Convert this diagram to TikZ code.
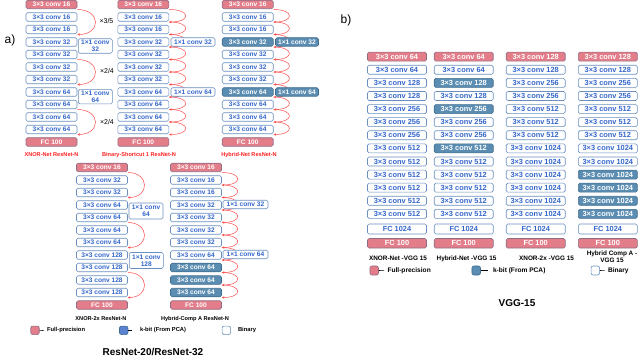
\documentclass[tikz,border=0pt]{standalone}
\usepackage{fontspec}
\setmainfont{Liberation Sans}
\usetikzlibrary{arrows.meta,calc}
\definecolor{fpfill}{HTML}{E27D89}
\definecolor{fpdraw}{HTML}{8E6E84}
\definecolor{kfill}{HTML}{5B8DB2}
\definecolor{kdraw}{HTML}{3F6E90}
\definecolor{bdraw}{HTML}{6B8FC0}
\definecolor{btext}{HTML}{3366CC}
\definecolor{arcred}{HTML}{FF4A4A}
\definecolor{legk}{HTML}{5A82D0}
\definecolor{labred}{HTML}{FF2020}
\begin{document}
\begin{tikzpicture}[x=1pt,y=-1pt,
 box/.style={rounded corners=1.5pt,line width=0.6pt,inner sep=0pt,minimum height=8.5pt,minimum width=51pt,font=\bfseries\fontsize{6.6}{7}\selectfont},
 fp/.style={box,fill=fpfill,draw=fpdraw,text=white},
 bin/.style={box,fill=white,draw=bdraw,text=btext},
 kb/.style={box,fill=kfill,draw=kdraw,text=white},
 vgg/.style={minimum width=59pt,minimum height=9pt,font=\bfseries\fontsize{7.4}{8}\selectfont},
 arcst/.style={draw=arcred,line width=0.5pt,-{Stealth[length=2.6pt,width=2.4pt]}},
 netlab/.style={font=\bfseries\fontsize{5.6}{6}\selectfont},
 leglab/.style={anchor=west,font=\bfseries\fontsize{5.8}{6}\selectfont},
 leglabb/.style={anchor=west,font=\bfseries\fontsize{6.6}{7}\selectfont},
 legsq/.style={rounded corners=2pt,line width=0.6pt,minimum width=8.5pt,minimum height=8.5pt,inner sep=0pt},
 mult/.style={anchor=west,font=\fontsize{7}{8}\selectfont},
 title/.style={font=\bfseries\fontsize{10}{12}\selectfont}
]
\useasboundingbox (0,0) rectangle (640,358);

% ---------- panel a, top row ----------
\foreach \s/\t [count=\k from 0] in {fp/3×3 conv 16,bin/3×3 conv 16,bin/3×3 conv 16,bin/3×3 conv 32,bin/3×3 conv 32,bin/3×3 conv 32,bin/3×3 conv 32,bin/3×3 conv 64,bin/3×3 conv 64,bin/3×3 conv 64,bin/3×3 conv 64,fp/FC 100}
  \node[\s] (A\k) at (51.5,{4.5+12.5*\k}) {\t};
\foreach \s/\t [count=\k from 0] in {fp/3×3 conv 16,bin/3×3 conv 16,bin/3×3 conv 16,bin/3×3 conv 32,bin/3×3 conv 32,bin/3×3 conv 32,bin/3×3 conv 32,bin/3×3 conv 64,bin/3×3 conv 64,bin/3×3 conv 64,bin/3×3 conv 64,fp/FC 100}
  \node[\s] (B\k) at (143.3,{4.5+12.5*\k}) {\t};
\foreach \s/\t [count=\k from 0] in {fp/3×3 conv 16,bin/3×3 conv 16,bin/3×3 conv 16,kb/3×3 conv 32,bin/3×3 conv 32,bin/3×3 conv 32,bin/3×3 conv 32,kb/3×3 conv 64,bin/3×3 conv 64,bin/3×3 conv 64,bin/3×3 conv 64,fp/FC 100}
  \node[\s] (C\k) at (247.7,{4.5+12.5*\k}) {\t};

% ---------- panel a, bottom row ----------
\foreach \s/\t [count=\k from 0] in {fp/3×3 conv 16,bin/3×3 conv 32,bin/3×3 conv 32,bin/3×3 conv 64,bin/3×3 conv 64,bin/3×3 conv 64,bin/3×3 conv 64,bin/3×3 conv 128,bin/3×3 conv 128,bin/3×3 conv 128,bin/3×3 conv 128,fp/FC 100}
  \node[\s] (D\k) at (102,{167.5+12.5*\k}) {\t};
\foreach \s/\t [count=\k from 0] in {fp/3×3 conv 16,bin/3×3 conv 16,bin/3×3 conv 16,bin/3×3 conv 32,bin/3×3 conv 32,bin/3×3 conv 32,bin/3×3 conv 32,bin/3×3 conv 64,kb/3×3 conv 64,kb/3×3 conv 64,kb/3×3 conv 64,fp/FC 100}
  \node[\s] (E\k) at (196,{167.5+12.5*\k}) {\t};

% residual arcs
\draw[arcst] ($(A0.east)+(0,5)$) .. controls +(24,0) and +(24,0) .. ($(A2.east)+(0,5)$);
\draw[arcst] ($(A4.east)+(0,5)$) .. controls +(24,0) and +(24,0) .. ($(A6.east)+(0,5)$);
\draw[arcst] ($(A8.east)+(0,5)$) .. controls +(24,0) and +(24,0) .. ($(A10.east)+(0,5)$);
\draw[arcst] ($(D0.east)+(0,5)$) .. controls +(22,0) and +(22,0) .. ($(D2.east)+(0,5)$);
\draw[arcst] ($(D4.east)+(0,5)$) .. controls +(22,0) and +(22,0) .. ($(D6.east)+(0,5)$);
\draw[arcst] ($(D8.east)+(0,5)$) .. controls +(22,0) and +(22,0) .. ($(D10.east)+(0,5)$);
\foreach \i in {0,...,9}{
  \pgfmathtruncatemacro\j{\i+1}
  \draw[arcst] ($(B\i.east)+(0,5)$) .. controls +(22,0) and +(22,0) .. ($(B\j.east)+(0,5)$);
  \draw[arcst] ($(C\i.east)+(0,5)$) .. controls +(21,0) and +(21,0) .. ($(C\j.east)+(0,5)$);
  \draw[arcst] ($(E\i.east)+(0,5)$) .. controls +(21,0) and +(21,0) .. ($(E\j.east)+(0,5)$);
}

% 1x1 conv boxes
\node[bin,minimum width=34pt,minimum height=14.5pt,align=center] (Ap1) at (95.3,46) {1×1 conv\\32};
\node[bin,minimum width=34pt,minimum height=14.5pt,align=center] (Ap2) at (95.3,96.7) {1×1 conv\\64};
\node[bin,minimum width=44pt] (Bp1) at (193,42) {1×1 conv 32};
\node[bin,minimum width=44pt] (Bp2) at (193,92) {1×1 conv 64};
\node[kb,minimum width=43pt] (Cp1) at (297,42) {1×1 conv 32};
\node[kb,minimum width=43pt] (Cp2) at (297,92) {1×1 conv 64};
\node[bin,minimum width=34pt,minimum height=16pt,align=center] (Dp1) at (146,211) {1×1 conv\\64};
\node[bin,minimum width=34pt,minimum height=16pt,align=center] (Dp2) at (146.3,260.5) {1×1 conv\\128};
\node[bin,minimum width=45pt] (Ep1) at (245.5,204.5) {1×1 conv 32};
\node[bin,minimum width=45pt] (Ep2) at (245.5,254.5) {1×1 conv 64};

\node[mult] (m1) at (96,21.5) {×3/5};
\node[mult] (m2) at (96.5,71) {×2/4};
\node[mult] (m3) at (96.5,121.5) {×2/4};

% network labels
\node[netlab,text=labred] (An) at (51.5,155) {XNOR-Net ResNet-N};
\node[netlab,text=labred] (Bn) at (139,155) {Binary-Shortcut 1 ResNet-N};
\node[netlab,text=labred] (Cn) at (249,155) {Hybrid-Net ResNet-N};
\node[netlab] (Dn) at (101,319) {XNOR-2x ResNet-N};
\node[netlab] (En) at (195,319) {Hybrid-Comp A ResNet-N};

% legend a
\node[legsq,fill=fpfill,draw=fpdraw] (la1) at (35,330.3) {};
\node[leglab] (la1t) at (43.5,330.5) {Full-precision};
\draw[line width=0.6pt] (la1.east) -- (la1t.west);
\node[legsq,fill=legk,draw=kdraw] (la2) at (123.7,330.3) {};
\node[leglab] (la2t) at (136.5,330.5) {k-bit (From PCA)};
\draw[line width=0.6pt] (la2.east) -- ++(4,0);
\node[legsq,fill=white,draw=bdraw] (la3) at (226.3,330.3) {};
\node[leglab] (la3t) at (234.5,330.5) {Binary};

\node[title] (ta) at (153,352) {ResNet-20/ResNet-32};
\node[font=\fontsize{12}{14}\selectfont] (pa) at (10,40) {a)};

% ---------- panel b ----------
\foreach \s/\t [count=\k from 0] in {fp/3×3 conv 64,bin/3×3 conv 64,bin/3×3 conv 128,bin/3×3 conv 128,bin/3×3 conv 256,bin/3×3 conv 256,bin/3×3 conv 256,bin/3×3 conv 512,bin/3×3 conv 512,bin/3×3 conv 512,bin/3×3 conv 512,bin/3×3 conv 512,bin/3×3 conv 512}
  \node[\s,vgg] (F\k) at (397,{56.7+13.1*\k}) {\t};
\foreach \s/\t [count=\k from 0] in {fp/3×3 conv 64,bin/3×3 conv 64,kb/3×3 conv 128,bin/3×3 conv 128,kb/3×3 conv 256,bin/3×3 conv 256,bin/3×3 conv 256,kb/3×3 conv 512,bin/3×3 conv 512,bin/3×3 conv 512,bin/3×3 conv 512,bin/3×3 conv 512,bin/3×3 conv 512}
  \node[\s,vgg] (G\k) at (463.7,{56.7+13.1*\k}) {\t};
\foreach \s/\t [count=\k from 0] in {fp/3×3 conv 128,bin/3×3 conv 128,bin/3×3 conv 256,bin/3×3 conv 256,bin/3×3 conv 512,bin/3×3 conv 512,bin/3×3 conv 512,bin/3×3 conv 1024,bin/3×3 conv 1024,bin/3×3 conv 1024,bin/3×3 conv 1024,bin/3×3 conv 1024,bin/3×3 conv 1024}
  \node[\s,vgg] (H\k) at (535.7,{56.7+13.1*\k}) {\t};
\foreach \s/\t [count=\k from 0] in {fp/3×3 conv 128,bin/3×3 conv 128,bin/3×3 conv 256,bin/3×3 conv 256,bin/3×3 conv 512,bin/3×3 conv 512,bin/3×3 conv 512,bin/3×3 conv 1024,bin/3×3 conv 1024,kb/3×3 conv 1024,kb/3×3 conv 1024,kb/3×3 conv 1024,kb/3×3 conv 1024}
  \node[\s,vgg] (I\k) at (607.8,{56.7+13.1*\k}) {\t};
\foreach \c/\x in {F/397,G/463.7,H/535.7,I/607.8}{
  \node[bin,vgg,minimum height=10pt] (\c fc1) at (\x,229) {FC 1024};
  \node[fp,vgg,minimum height=9.5pt] (\c fc2) at (\x,243.3) {FC 100};
}
\node[netlab,font=\bfseries\fontsize{6.4}{7}\selectfont] (Fn) at (398,258.5) {XNOR-Net -VGG 15};
\node[netlab,font=\bfseries\fontsize{6.4}{7}\selectfont] (Gn) at (466.5,258.5) {Hybrid-Net -VGG 15};
\node[netlab,font=\bfseries\fontsize{6.4}{7}\selectfont] (Hn) at (546.5,258) {XNOR-2x -VGG 15};
\node[netlab,font=\bfseries\fontsize{6.4}{7}\selectfont,align=center] (In) at (612,256.8) {Hybrid Comp A -\\VGG 15};

% legend b
\node[legsq,fill=fpfill,draw=fpdraw,minimum height=9pt] (lb1) at (374.2,270.5) {};
\node[leglabb] (lb1t) at (384,270.7) {Full-precision};
\draw[line width=0.6pt] (lb1.east) -- (lb1t.west);
\node[legsq,fill=kfill,draw=kdraw,minimum height=9pt] (lb2) at (476.2,270.5) {};
\node[leglabb] (lb2t) at (489.5,270.7) {k-bit (From PCA)};
\draw[line width=0.6pt] (lb2.east) -- ++(7.5,0);
\node[legsq,fill=white,draw=bdraw,minimum height=9pt] (lb3) at (595.3,270.5) {};
\node[leglabb] (lb3t) at (604.5,270.7) {Binary};
\draw[line width=0.6pt] (lb3.east) -- (lb3t.west);

\node[title] (tb) at (517,303.5) {VGG-15};
\node[font=\fontsize{12}{14}\selectfont] (pb) at (346,20) {b)};
\end{tikzpicture}
\end{document}
